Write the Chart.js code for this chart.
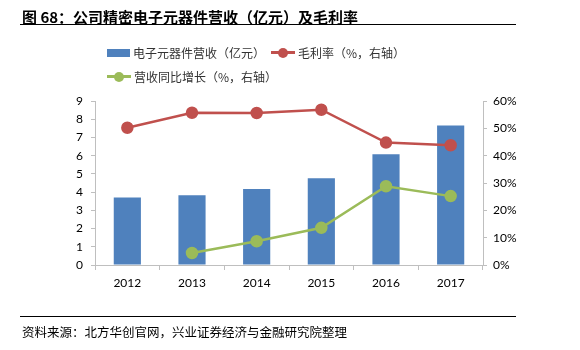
<!DOCTYPE html>
<html>
<head>
<meta charset="utf-8">
<script src="https://cdn.jsdelivr.net/npm/chart.js@4"></script>
<style>
  body { margin: 0; background: #fff; }
  #wrap { position: relative; width: 580px; height: 350px; overflow: hidden; }
  #chart { position: absolute; left: 0; top: 0; }
  .title { position: absolute; left: 22px; top: 6px; font: bold 15px "Noto Sans CJK SC"; color: #000; }
  .rule { position: absolute; left: 20px; width: 496px; height: 0; border-top: 1px solid #000; }
  .src { position: absolute; left: 22px; top: 322px; font: 12.5px "Noto Sans CJK SC"; color: #000; }
  .lg { position: absolute; font: 12px "Noto Sans CJK SC"; color: #333; display: flex; align-items: center; white-space: nowrap; }
  .sw { width: 23px; height: 8px; background: #4F81BD; margin-right: 3px; }
  .ln { position: relative; width: 24px; height: 3px; margin-right: 3px; }
  .ln i { position: absolute; left: 7px; top: -3.5px; width: 10px; height: 10px; border-radius: 50%; }
</style>
</head>
<body>
<div id="wrap">
  <canvas id="chart" width="580" height="350"></canvas>
  <div class="title">图 68：公司精密电子元器件营收（亿元）及毛利率</div>
  <div class="rule" style="top:24px"></div>
  <div class="lg" style="left:107px;top:44px"><span class="sw"></span>电子元器件营收（亿元）</div>
  <div class="lg" style="left:271px;top:44px"><span class="ln" style="background:#C0504D"><i style="background:#C0504D"></i></span>毛利率（%，右轴）</div>
  <div class="lg" style="left:107px;top:68px"><span class="ln" style="background:#9BBB59"><i style="background:#9BBB59"></i></span>营收同比增长（%，右轴）</div>
  <div class="rule" style="top:316px"></div>
  <div class="src">资料来源：北方华创官网，兴业证券经济与金融研究院整理</div>
</div>
<script>
const years = ['2012', '2013', '2014', '2015', '2016', '2017'];
const revenue = [3.70, 3.83, 4.17, 4.76, 6.08, 7.65];
const grossMargin = [50.2, 55.7, 55.6, 56.8, 44.8, 43.8];
const growth = [null, 4.4, 8.7, 13.6, 28.8, 25.2];

const axisColor = '#BFBFBF';
const tickFont = { family: 'Lato', size: 12 };

new Chart(document.getElementById('chart'), {
    data: {
        labels: years,
        datasets: [
            {
                type: 'line', label: '毛利率（%，右轴）', data: grossMargin, yAxisID: 'y1',
                borderColor: '#C0504D', backgroundColor: '#C0504D', borderWidth: 2.5,
                pointRadius: 5, pointHoverRadius: 5, order: 1
            },
            {
                type: 'line', label: '营收同比增长（%，右轴）', data: growth, yAxisID: 'y1',
                borderColor: '#9BBB59', backgroundColor: '#9BBB59', borderWidth: 2.5,
                pointRadius: 5, pointHoverRadius: 5, order: 2
            },
            {
                type: 'bar', label: '电子元器件营收（亿元）', data: revenue, yAxisID: 'y',
                backgroundColor: '#4F81BD', categoryPercentage: 1, barPercentage: 0.42, order: 3
            }
        ]
    },
    options: {
        responsive: false,
        animation: false,
        layout: { padding: { top: 101, left: 0, right: 0, bottom: 0 } },
        plugins: { legend: { display: false }, tooltip: { enabled: false } },
        scales: {
            x: {
                offset: true,
                grid: { offset: true, drawOnChartArea: false, color: axisColor, tickLength: 5 },
                border: { color: axisColor },
                ticks: { color: '#000', font: tickFont, padding: 6 },
                afterFit(s) { s.height = 85; }
            },
            y: {
                position: 'left', min: 0, max: 9,
                grid: { drawOnChartArea: false, color: axisColor, tickLength: 4 },
                border: { color: axisColor },
                ticks: { stepSize: 1, color: '#000', font: tickFont, padding: 8 },
                afterFit(s) { s.width = 95; }
            },
            y1: {
                position: 'right', min: 0, max: 60,
                grid: { drawOnChartArea: false, color: axisColor, tickLength: 4 },
                border: { color: axisColor },
                ticks: { stepSize: 10, color: '#000', font: tickFont, padding: 6, callback: v => v + '%' },
                afterFit(s) { s.width = 97; }
            }
        }
    }
});
</script>
</body>
</html>
